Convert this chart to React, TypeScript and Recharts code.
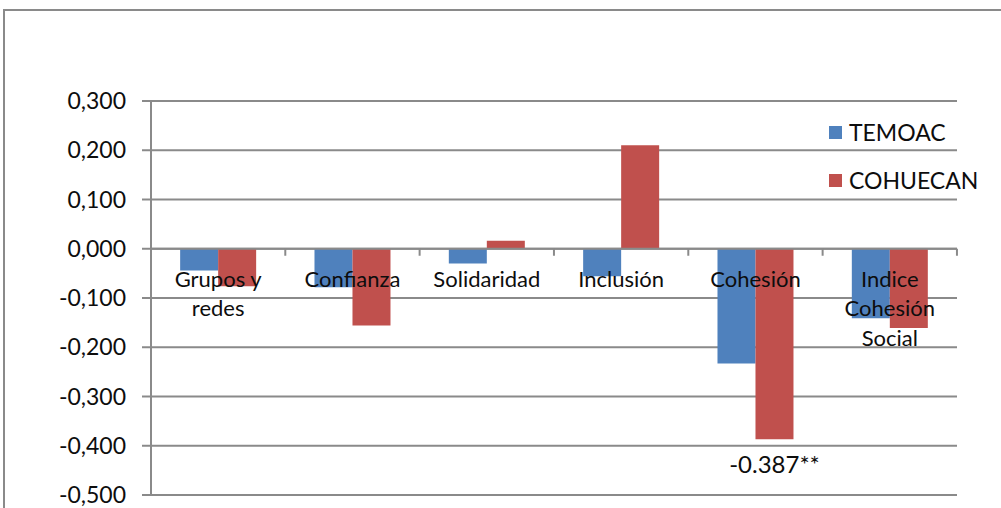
import React from 'react';
import { BarChart, Bar, XAxis, YAxis, CartesianGrid, LabelList, ReferenceLine } from 'recharts';

// Categories and the two series of the social cohesion comparison
const categories = ['Grupos y redes', 'Confianza', 'Solidaridad', 'Inclusión', 'Cohesión', 'Indice Cohesión Social'];
const temoac = [-0.044, -0.078, -0.030, -0.056, -0.233, -0.141];
const cohuecan = [-0.076, -0.156, 0.016, 0.210, -0.387, -0.161];
const cohuecanSignificance = ['', '', '', '', '**', ''];
const seriesNames = ['TEMOAC', 'COHUECAN'];
const seriesColors = ['#4F81BD', '#C0504D'];
const yTicks = [-0.5, -0.4, -0.3, -0.2, -0.1, 0, 0.1, 0.2, 0.3];

const data = categories.map((name, i) => ({ name, temoac: temoac[i], cohuecan: cohuecan[i] }));

const FONT = 'Lato, "Open Sans", sans-serif';
const GRID = '#8a8a8a';
const TEXT = '#0d0d0d';
const CATEGORY_GAP = 0.217;

const fmt = (v: number) => v.toFixed(3).replace('.', ',');

// wrap a label into lines of at most `max` characters
const wrap = (text: string, max: number) => {
  const words = text.split(' ');
  const lines: string[] = [];
  let cur = '';
  words.forEach((w) => {
    const next = cur ? cur + ' ' + w : w;
    if (next.length > max && cur) {
      lines.push(cur);
      cur = w;
    } else cur = next;
  });
  if (cur) lines.push(cur);
  return lines;
};

// Category names, tick marks and significance notes, drawn from the second bar of each pair
const CategoryLayer = (props: any) => {
  const vb = props.viewBox ?? props;
  const { index } = props;
  const x = Number(vb.x);
  const y = Number(vb.y);
  const w = Number(vb.width);
  const h = Number(vb.height);
  const top = Math.min(y, y + h);
  const bottom = Math.max(y, y + h);
  const value = cohuecan[index];
  const zeroY = value < 0 ? top : bottom;
  const centerX = x; // left edge of the second bar = centre of the category
  const band = (2 * w) / (1 - 2 * CATEGORY_GAP);
  const lines = wrap(categories[index], 10);
  const sig = cohuecanSignificance[index];
  return (
    <g>
      <line x1={centerX + band / 2} x2={centerX + band / 2} y1={zeroY} y2={zeroY + 7} stroke={GRID} strokeWidth={2} />
      {index === 0 && (
        <line x1={centerX - band / 2} x2={centerX - band / 2} y1={zeroY} y2={zeroY + 7} stroke={GRID} strokeWidth={2} />
      )}
      <text x={centerX} y={zeroY + 38} textAnchor="middle" fontFamily={FONT} fontSize={22} fill={TEXT}>
        {lines.map((l, i) => (
          <tspan key={i} x={centerX} dy={i === 0 ? 0 : 29.5}>
            {l}
          </tspan>
        ))}
      </text>
      {sig && (
        <text x={x + w / 2} y={bottom + 34} textAnchor="middle" fontFamily={FONT} fontSize={24} fill={TEXT}>
          {value.toFixed(3) + sig}
        </text>
      )}
    </g>
  );
};

export default function App() {
  return (
    <div style={{ position: 'fixed', left: 0, top: 0, width: 1001, height: 508, overflow: 'hidden', background: '#fff' }}>
      <div
        style={{
          position: 'absolute',
          left: 3,
          top: 9,
          width: 1100,
          height: 600,
          border: '2px solid #8a8a8a',
          boxSizing: 'border-box',
        }}
      />
      <div style={{ position: 'absolute', left: 0, top: 0 }}>
        <BarChart
          width={1001}
          height={508}
          data={data}
          margin={{ top: 101, right: 44, bottom: 13, left: 0 }}
          barCategoryGap={`${CATEGORY_GAP * 100}%`}
          barGap={0}
        >
          <CartesianGrid vertical={false} stroke={GRID} strokeWidth={2} />
          <XAxis dataKey="name" hide />
          <YAxis
            width={151}
            domain={[-0.5, 0.3]}
            ticks={yTicks}
            tickFormatter={fmt}
            axisLine={{ stroke: GRID, strokeWidth: 2 }}
            tickLine={{ stroke: GRID, strokeWidth: 2 }}
            tickSize={9}
            tickMargin={16}
            tick={{ fontFamily: FONT, fontSize: 23, fill: TEXT }}
            interval={0}
          />
          <ReferenceLine y={0} stroke={GRID} strokeWidth={2} />
          <Bar dataKey="temoac" name={seriesNames[0]} fill={seriesColors[0]} isAnimationActive={false} />
          <Bar dataKey="cohuecan" name={seriesNames[1]} fill={seriesColors[1]} isAnimationActive={false}>
            <LabelList dataKey="name" content={CategoryLayer} />
          </Bar>
        </BarChart>
      </div>
      {/* legend */}
      <div style={{ position: 'absolute', left: 829, top: 108, fontFamily: FONT, fontSize: 23, color: TEXT }}>
        {seriesNames.map((n, i) => (
          <div key={n} style={{ display: 'flex', alignItems: 'center', height: 48 }}>
            <span style={{ display: 'inline-block', width: 13, height: 13, background: seriesColors[i], marginRight: 7 }} />
            <span>{n}</span>
          </div>
        ))}
      </div>
    </div>
  );
}
